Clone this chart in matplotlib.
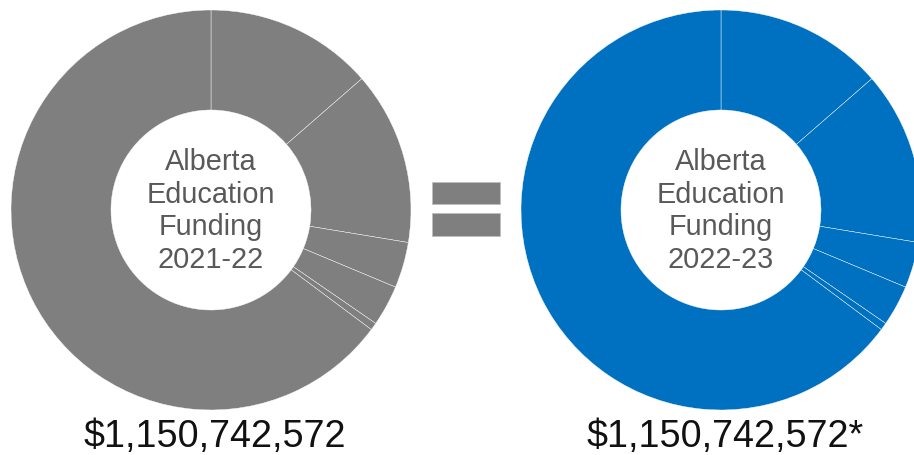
import matplotlib.pyplot as plt
from matplotlib.patches import Rectangle

plt.rcParams['font.family'] = ['Liberation Sans', 'DejaVu Sans']

# ulushlar (soat yo'nalishi bo'yicha, tepadan boshlab)
ulush_2021 = [13.6, 14.0, 3.7, 3.3, 0.6, 64.8]
ulush_2022 = [13.6, 14.0, 3.7, 3.3, 0.6, 64.8]

markaz_matn = ["Alberta\nEducation\nFunding\n2021-22",
               "Alberta\nEducation\nFunding\n2022-23"]
jami_matn = ["$1,150,742,572", "$1,150,742,572*"]
ranglar = ["#7f7f7f", "#0070c0"]

fig = plt.figure(figsize=(9.14, 4.55), dpi=100)
ax = fig.add_axes([0, 0, 1, 1])

markazlar = [(211, 245), (721, 245)]
for qiymat, (cx, cy), rang in zip([ulush_2021, ulush_2022], markazlar, ranglar):
    ax.pie(qiymat, colors=[rang] * len(qiymat), startangle=90, counterclock=False,
           radius=200, center=(cx, cy),
           wedgeprops=dict(width=100, edgecolor="white", linewidth=0.3))

for (cx, cy), matn in zip(markazlar, markaz_matn):
    ax.text(cx, cy - 1, matn, ha="center", va="center", fontsize=20.8,
            color="#595959", linespacing=1.22)

for (cx, cy), matn in zip(markazlar, jami_matn):
    ax.text(cx + 4, 18.5, matn, ha="center", va="center", fontsize=27.2, color="#111111")

# tenglik belgisi
ax.add_patch(Rectangle((432, 251), 68, 22, facecolor="#7f7f7f", edgecolor="#bfbfbf", linewidth=0.6))
ax.add_patch(Rectangle((432, 219), 68, 23, facecolor="#7f7f7f", edgecolor="#bfbfbf", linewidth=0.6))

ax.set_xlim(0, 914)
ax.set_ylim(0, 455)
ax.set_aspect("equal")
ax.axis("off")

plt.savefig("out.png", dpi=100)
